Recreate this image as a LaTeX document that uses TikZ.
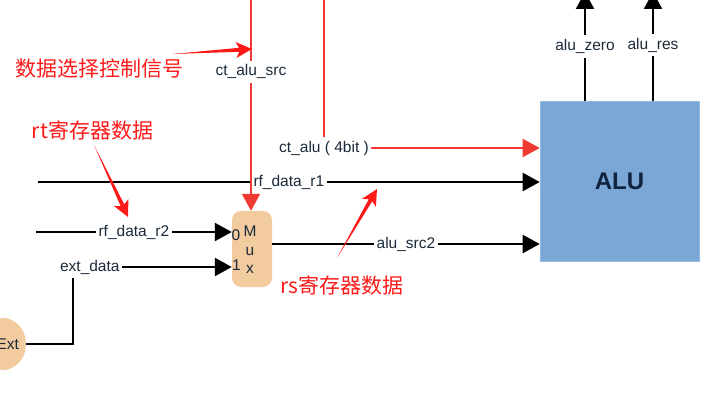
\documentclass[tikz,border=0pt]{standalone}
\usepackage{fontspec}
\setmainfont{Liberation Sans}
\newfontfamily\cjk{Noto Sans CJK SC}
\usetikzlibrary{arrows.meta,calc,shapes.geometric}
\definecolor{txt}{HTML}{1B2A3A}
\definecolor{aludark}{HTML}{10233F}
\definecolor{alublue}{HTML}{7BA7D7}
\definecolor{muxfill}{HTML}{F2CB9F}
\definecolor{ctred}{HTML}{EE3A30}
\definecolor{annored}{HTML}{FF1A1A}
\newcommand\annoarrow[2]{%
  \coordinate (aab) at ($(#2)!13pt!(#1)$);
  \coordinate (aac) at ($(#2)!16pt!(#1)$);
  \fill[annored] (#1) -- ($(aab)!2pt!90:(#2)$) -- ($(aac)!8pt!90:(#2)$) -- (#2)
     -- ($(aac)!8pt!-90:(#2)$) -- ($(aab)!2pt!-90:(#2)$) -- cycle;}
\begin{document}
\begin{tikzpicture}[x=1pt,y=-1pt,
  lbl/.style={font=\fontsize{15.5}{18}\selectfont, text=txt, fill=white, inner xsep=2.5pt, inner ysep=4pt},
  plain/.style={font=\fontsize{15.5}{18}\selectfont, text=txt, inner sep=0pt},
  blk/.style={draw=black, line width=2.4pt, -{Triangle[length=17pt,width=18pt]}},
  redl/.style={draw=ctred, line width=2pt, -{Triangle[length=17pt,width=18pt]}},
  alubox/.style={rectangle, fill=alublue, draw=alublue!80!white, line width=0.6pt, minimum width=159pt, minimum height=160pt, inner sep=0pt, font=\bfseries\fontsize{24}{28}\selectfont, text=aludark},
  muxbox/.style={rectangle, rounded corners=9pt, fill=muxfill, minimum width=40pt, minimum height=76pt, inner sep=0pt},
  extshape/.style={ellipse, fill=muxfill, minimum width=46pt, minimum height=52pt, inner sep=0pt, text width=32pt, align=right, font=\fontsize{15.5}{18}\selectfont, text=txt},
  anno/.style={font=\cjk\fontsize{21}{24}\selectfont, text=annored, inner sep=0pt}]
\useasboundingbox (0,0) rectangle (728,404);
\clip (0,0) rectangle (728,404);

% nodes
\node[alubox] (alu) at (619.5,181) {ALU};
\node[muxbox] (mux) at (252,249) {};
\node[plain, align=center, font=\fontsize{15.5}{18.5}\selectfont] (muxtxt) at (250,250) {M\\u\\x};
\node[plain] (in0) at (236,235) {0};
\node[plain] (in1) at (236.5,265) {1};
\node[extshape] (ext) at (3,344) {Ext};

% coordinates
\coordinate (min0) at ($(mux.west)+(0,-17)$);
\coordinate (min1) at ($(mux.west)+(0,18)$);
\coordinate (mout) at ($(mux.east)+(0,-5)$);
\coordinate (aluc) at ($(alu.west)+(0,-33)$);
\coordinate (r1s) at (38,182);
\coordinate (r2s) at (36,232);
\coordinate (cts) at (251,-2);
\coordinate (cta) at (324,-2);
\coordinate (zt) at (585,-8);
\coordinate (rt) at (653,-8);
\coordinate (extc) at ($(min1)+(-159,0)$);

% black connectors
\draw[blk] (r1s) -- node[lbl]{rf\_data\_r1} (r1s -| alu.west);
\draw[blk] (r2s) -- node[lbl]{rf\_data\_r2} (min0);
\draw[blk] (ext.east) -| (extc) -- node[lbl,pos=0.107]{ext\_data} (min1);
\draw[blk] (mout) -- node[lbl]{alu\_src2} (mout -| alu.west);
\draw[blk] (zt |- alu.north) -- node[lbl]{alu\_zero} (zt);
\draw[blk] (rt |- alu.north) -- node[lbl,pos=0.51]{alu\_res} (rt);

% red control connectors
\draw[redl] (cts) -- node[lbl,pos=0.347]{ct\_alu\_src} (cts |- mux.north);
\draw[redl] (cta) |- node[lbl,pos=0.5]{ct\_alu ( 4bit )} (aluc);

% annotations
\node[anno] (a1) at (100,69) {数据选择控制信号};
\node[anno] (a2) at (92.5,130) {rt寄存器数据};
\node[anno] (a3) at (342,285) {rs寄存器数据};
\coordinate (a1t) at (172,54);
\coordinate (a1h) at (252,49);
\coordinate (a2t) at (94,145);
\coordinate (a2h) at (128,217);
\coordinate (a3t) at (337,258);
\coordinate (a3h) at (377,189);
\annoarrow{a1t}{a1h}
\annoarrow{a2t}{a2h}
\annoarrow{a3t}{a3h}
\end{tikzpicture}
\end{document}
